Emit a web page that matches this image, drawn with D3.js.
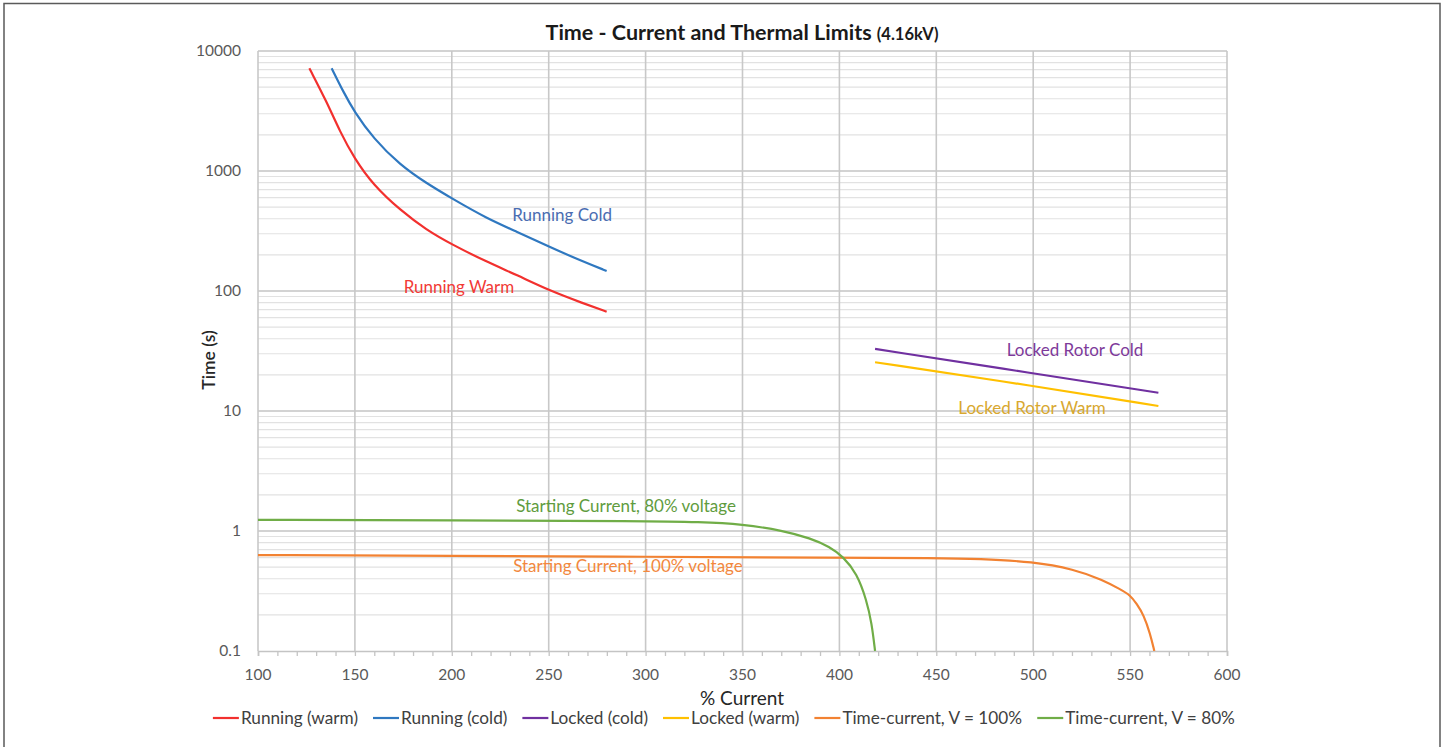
<!DOCTYPE html>
<html>
<head>
<meta charset="utf-8">
<script src="https://cdn.jsdelivr.net/npm/d3@7/dist/d3.min.js"></script>
<style>
  html, body { margin: 0; padding: 0; background: #ffffff; }
  svg { display: block; font-family: Lato, "Open Sans", sans-serif; }
</style>
</head>
<body>
<svg id="chart" width="1447" height="747"></svg>
<script>
// ---------------- DATA ----------------
const titleMain = "Time - Current and Thermal Limits";
const titleSub = "(4.16kV)";
const xTitle = "% Current";
const yTitle = "Time (s)";

const xTicks = [100, 150, 200, 250, 300, 350, 400, 450, 500, 550, 600];
const xMinorTicks = d3.range(100, 601, 10);
const yTicks = [0.1, 1, 10, 100, 1000, 10000];
const yTickLabels = ["0.1", "1", "10", "100", "1000", "10000"];

const runWarmI = [126.5, 135.4, 142.3, 149.7, 159.5, 173.3, 187, 199.9, 218, 233.5, 250.3, 267.9, 279.9];
const runWarmT = [7180, 3785, 2126, 1276, 764, 473, 322, 245, 175, 136, 101, 78.9, 67.2];

const runColdI = [138, 144, 149.7, 159.5, 173.3, 187, 199.9, 218, 233.5, 250.3, 267.9, 279.9];
const runColdT = [7180, 4580, 3120, 1871, 1122, 789, 592, 403, 312, 234, 175, 147];

const lockColdI = [418.4, 500, 564.6];
const lockColdT = [32.9, 20.6, 14.2];

const lockWarmI = [418.4, 500, 564.6];
const lockWarmT = [25.5, 16.2, 11.0];

const tc100I = [100, 200, 300, 400, 450, 472, 500, 521, 536, 544.8, 550, 553.4, 557, 560.3, 562.5];
const tc100T = [0.63, 0.62, 0.61, 0.60, 0.595, 0.587, 0.555, 0.48, 0.391, 0.327, 0.293, 0.247, 0.2, 0.14, 0.1];

const tc80I = [100, 200, 300, 328, 350, 371, 385, 395, 402, 409, 414, 416.7, 418.4];
const tc80T = [1.24, 1.225, 1.21, 1.19, 1.14, 1.006, 0.87, 0.74, 0.61, 0.444, 0.266, 0.17, 0.1];

const seriesNames = ["Running (warm)", "Running (cold)", "Locked (cold)", "Locked (warm)", "Time-current, V = 100%", "Time-current, V = 80%"];
const seriesColors = ["#f2302e", "#2f78c0", "#7030a0", "#ffc000", "#f28232", "#70ad47"];

const annoTexts = ["Running Warm", "Running Cold", "Locked Rotor Cold", "Locked Rotor Warm", "Starting Current, 100% voltage", "Starting Current, 80% voltage"];
const annoColors = ["#f23a36", "#4a6db2", "#7d3a9a", "#d8a830", "#f2883e", "#5f9c3e"];
// anchor points (data coords) for the annotation labels
const annoI = [203.7, 256.9, 521.6, 499.4, 290.9, 289.9];
const annoT = [108, 430, 32.2, 10.6, 0.511, 1.62];

// ---------------- CHART ----------------
const svg = d3.select("#chart");

// outer frame
svg.append("rect").attr("x", 4).attr("y", 3.5).attr("width", 1436).attr("height", 780)
  .attr("fill", "none").attr("stroke", "#5a5a5a").attr("stroke-width", 1.5);

const x = d3.scaleLinear().domain([100, 600]).range([258, 1227]);
const y = d3.scaleLog().domain([0.1, 10000]).range([651, 51]);

// minor horizontal gridlines
const minorY = [];
for (let e = -1; e < 4; e++) for (let m = 2; m <= 9; m++) minorY.push(m * Math.pow(10, e));
svg.append("g").selectAll("line").data(minorY).join("line")
  .attr("x1", x(100)).attr("x2", x(600))
  .attr("y1", d => y(d)).attr("y2", d => y(d))
  .attr("stroke", "#e2e2e2").attr("stroke-width", 1.2);

// major horizontal gridlines
svg.append("g").selectAll("line").data(yTicks.slice(1)).join("line")
  .attr("x1", x(100)).attr("x2", x(600))
  .attr("y1", d => y(d)).attr("y2", d => y(d))
  .attr("stroke", "#c4c4c4").attr("stroke-width", 1.6);

// vertical gridlines
svg.append("g").selectAll("line").data(xTicks).join("line")
  .attr("x1", d => x(d)).attr("x2", d => x(d))
  .attr("y1", y(10000)).attr("y2", y(0.1))
  .attr("stroke", "#c8c8c8").attr("stroke-width", 1.6);

// x axis line with minor ticks
const xAxis = d3.axisBottom(x).tickValues(xMinorTicks).tickSize(5).tickFormat("");
const gx = svg.append("g").attr("transform", `translate(0,${y(0.1)})`).call(xAxis);
gx.select(".domain").attr("stroke", "#c4c4c4").attr("stroke-width", 1.6);
gx.selectAll(".tick line").attr("stroke", "#c4c4c4").attr("stroke-width", 1.3);

// x tick labels
svg.append("g").selectAll("text").data(xTicks).join("text")
  .attr("x", d => x(d)).attr("y", 675).attr("dy", "0.35em")
  .attr("text-anchor", "middle").attr("fill", "#595959").attr("font-size", 15.5)
  .text(d => d);

// y tick labels
svg.append("g").selectAll("text").data(yTicks).join("text")
  .attr("x", 241).attr("y", d => y(d)).attr("dy", "0.35em")
  .attr("text-anchor", "end").attr("fill", "#595959").attr("font-size", 15.5)
  .text((d, i) => yTickLabels[i]);

// series lines
const seriesData = [
  [runWarmI, runWarmT], [runColdI, runColdT], [lockColdI, lockColdT],
  [lockWarmI, lockWarmT], [tc100I, tc100T], [tc80I, tc80T]
];
const line = d3.line().x(d => x(d[0])).y(d => y(d[1])).curve(d3.curveBasis);
svg.append("clipPath").attr("id", "plotclip").append("rect")
  .attr("x", x(100)).attr("y", y(10000)).attr("width", x(600) - x(100)).attr("height", y(0.1) - y(10000));
seriesData.forEach((s, i) => {
  const pts = s[0].map((v, j) => [v, s[1][j]]);
  svg.append("path").datum(pts)
    .attr("d", line)
    .attr("fill", "none")
    .attr("stroke", seriesColors[i])
    .attr("stroke-width", 2.2)
    .attr("stroke-linejoin", "round")
    .attr("clip-path", "url(#plotclip)");
});

// annotations
svg.append("g").selectAll("text").data(annoTexts).join("text")
  .attr("x", (d, i) => x(annoI[i])).attr("y", (d, i) => y(annoT[i])).attr("dy", "0.35em")
  .attr("text-anchor", "middle").attr("font-size", 17)
  .attr("fill", (d, i) => annoColors[i])
  .text(d => d);

// title
const t = svg.append("text").attr("x", 742).attr("y", 40).attr("text-anchor", "middle")
  .attr("fill", "#1a1a1a").attr("font-weight", "bold");
t.append("tspan").attr("font-size", 21.5).text(titleMain + " ");
t.append("tspan").attr("font-size", 16.5).text(titleSub);

// axis titles
svg.append("text").attr("x", 742).attr("y", 698).attr("dy", "0.35em").attr("text-anchor", "middle")
  .attr("font-size", 19).attr("fill", "#262626").text(xTitle);
svg.append("text").attr("transform", "translate(209,360) rotate(-90)").attr("dy", "0.35em")
  .attr("text-anchor", "middle").attr("font-size", 17.5).attr("fill", "#262626").attr("font-weight", 600).text(yTitle);

// legend
const legend = svg.append("g").attr("transform", "translate(0,718)");
const items = legend.selectAll("g").data(seriesNames).join("g");
items.append("line").attr("x1", 0).attr("x2", 26).attr("y1", 0).attr("y2", 0)
  .attr("stroke", (d, i) => seriesColors[i]).attr("stroke-width", 2.2);
items.append("text").attr("x", 28).attr("dy", "0.35em").attr("font-size", 17.2)
  .attr("fill", "#404040").text(d => d);
const widths = [];
items.each(function() { widths.push(this.getBBox().width); });
const gap = 15;
const total = d3.sum(widths) + gap * (widths.length - 1);
let lx = 724 - total / 2;
items.attr("transform", (d, i) => {
  const tx = lx; lx += widths[i] + gap; return `translate(${tx},0)`;
});
</script>
</body>
</html>
